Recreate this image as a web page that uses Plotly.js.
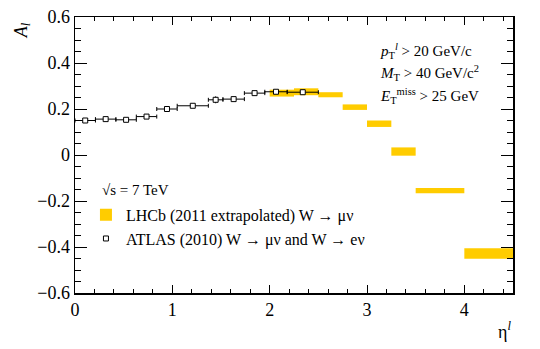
<!DOCTYPE html>
<html>
<head>
<meta charset="utf-8">
<script src="https://cdn.plot.ly/plotly-3.0.1.min.js"></script>
<style>
  body { margin: 0; background: #fff; }
  #chart { width: 540px; height: 349px; }
</style>
</head>
<body>
<div id="chart"></div>
<script>
// LHCb (2011 extrapolated) W -> mu nu, bins in eta
const lhcbLow  = [2.0, 2.25, 2.5, 2.75, 3.0, 3.25, 3.5, 4.0];
const lhcbHigh = [2.25, 2.5, 2.75, 3.0, 3.25, 3.5, 4.0, 4.5];
const lhcbA    = [0.269, 0.275, 0.262, 0.208, 0.136, 0.015, -0.155, -0.428];
const lhcbErr  = [0.015, 0.015, 0.011, 0.012, 0.014, 0.018, 0.011, 0.023];

// ATLAS (2010) W -> mu nu and W -> e nu
const atlasEdges = [0, 0.21, 0.42, 0.63, 0.84, 1.05, 1.37, 1.52, 1.74, 1.95, 2.18, 2.5];
const atlasA     = [0.150, 0.156, 0.153, 0.167, 0.200, 0.214, 0.240, 0.243, 0.269, 0.275, 0.273];
const atlasErr   = [0.006, 0.006, 0.006, 0.006, 0.006, 0.007, 0.015, 0.008, 0.008, 0.008, 0.009];

const serif = 'Liberation Serif';

// boxes: centre, width, base from the bin table
const lhcbX = lhcbLow.map((lo, i) => (lo + lhcbHigh[i]) / 2);
const lhcbW = lhcbLow.map((lo, i) => lhcbHigh[i] - lo);
const lhcbBase = lhcbA.map((a, i) => a - lhcbErr[i]);
const lhcbH = lhcbErr.map(e => 2 * e);

const atlasX = atlasA.map((_, i) => (atlasEdges[i] + atlasEdges[i + 1]) / 2);
const atlasHalf = atlasA.map((_, i) => (atlasEdges[i + 1] - atlasEdges[i]) / 2);

const traces = [
  {
    type: 'bar',
    name: 'LHCb (2011 extrapolated) W \u2192 \u03bc\u03bd',
    x: lhcbX,
    y: lhcbH,
    base: lhcbBase,
    width: lhcbW,
    marker: { color: '#FFCC00', line: { width: 0 } },
    hoverinfo: 'skip'
  },
  {
    type: 'scatter',
    mode: 'markers',
    name: 'ATLAS (2010) W \u2192 \u03bc\u03bd and W \u2192 e\u03bd',
    x: atlasX,
    y: atlasA,
    error_x: { type: 'data', array: atlasHalf, color: 'black', thickness: 1, width: 2 },
    error_y: { type: 'data', array: atlasErr, color: 'black', thickness: 1, width: 0 },
    marker: { symbol: 'square', size: 5, color: 'white', line: { color: 'black', width: 1 } },
    hoverinfo: 'skip'
  }
];

const tickFont = { family: serif, size: 18, color: 'black' };

const layout = {
  width: 540,
  height: 349,
  margin: { l: 75, r: 27, t: 17, b: 56 },
  paper_bgcolor: 'white',
  plot_bgcolor: 'white',
  font: { family: serif, color: 'black', size: 18 },
  showlegend: true,
  legend: {
    x: 0.025, xanchor: 'left',
    y: 0.345, yanchor: 'top',
    bgcolor: 'rgba(0,0,0,0)',
    font: { family: serif, size: 16, color: 'black' },
    tracegroupgap: 0
  },
  xaxis: {
    range: [0, 4.5],
    dtick: 1,
    ticks: 'inside', ticklen: 8, tickwidth: 1, tickcolor: 'black',
    minor: { dtick: 0.2, ticks: 'inside', ticklen: 4, tickwidth: 1, tickcolor: 'black' },
    showline: true, linecolor: 'black', linewidth: 1.5, mirror: 'ticks',
    showgrid: false, zeroline: false,
    tickfont: tickFont
  },
  yaxis: {
    range: [-0.6, 0.6],
    dtick: 0.2,
    ticks: 'inside', ticklen: 12, tickwidth: 1, tickcolor: 'black',
    minor: { dtick: 0.05, ticks: 'inside', ticklen: 6, tickwidth: 1, tickcolor: 'black' },
    showline: true, linecolor: 'black', linewidth: 1.5, mirror: 'ticks',
    showgrid: false, zeroline: false,
    tickfont: tickFont
  },
  annotations: [
    { // y axis title, top-left, rotated
      xref: 'paper', yref: 'paper', x: -0.12, y: 0.99, xanchor: 'center', yanchor: 'top',
      text: '<i>A</i><sub><i>l</i></sub>', textangle: -90, showarrow: false,
      font: { family: serif, size: 18 }
    },
    { // x axis title, bottom-right
      xref: 'paper', yref: 'paper', x: 1.0, y: -0.135, xanchor: 'right', yanchor: 'middle',
      text: '\u03b7<sup><i>l</i></sup>', showarrow: false,
      font: { family: serif, size: 18 }
    },
    {
      xref: 'paper', yref: 'paper', x: 0.692, y: 0.878, xanchor: 'left', yanchor: 'middle',
      text: '<i>p</i><sub>T</sub><sup><i>l</i></sup> > 20 GeV/c', showarrow: false,
      font: { family: serif, size: 15 }
    },
    {
      xref: 'paper', yref: 'paper', x: 0.692, y: 0.798, xanchor: 'left', yanchor: 'middle',
      text: '<i>M</i><sub>T</sub> > 40 GeV/c<sup>2</sup>', showarrow: false,
      font: { family: serif, size: 15 }
    },
    {
      xref: 'paper', yref: 'paper', x: 0.692, y: 0.715, xanchor: 'left', yanchor: 'middle',
      text: '<i>E</i><sub>T</sub><sup>miss</sup> > 25 GeV', showarrow: false,
      font: { family: serif, size: 15 }
    },
    {
      xref: 'paper', yref: 'paper', x: 0.057, y: 0.372, xanchor: 'left', yanchor: 'middle',
      text: '\u221As = 7 TeV', showarrow: false,
      font: { family: serif, size: 15 }
    }
  ]
};

Plotly.newPlot('chart', traces, layout, { staticPlot: true, displayModeBar: false });
</script>
</body>
</html>
